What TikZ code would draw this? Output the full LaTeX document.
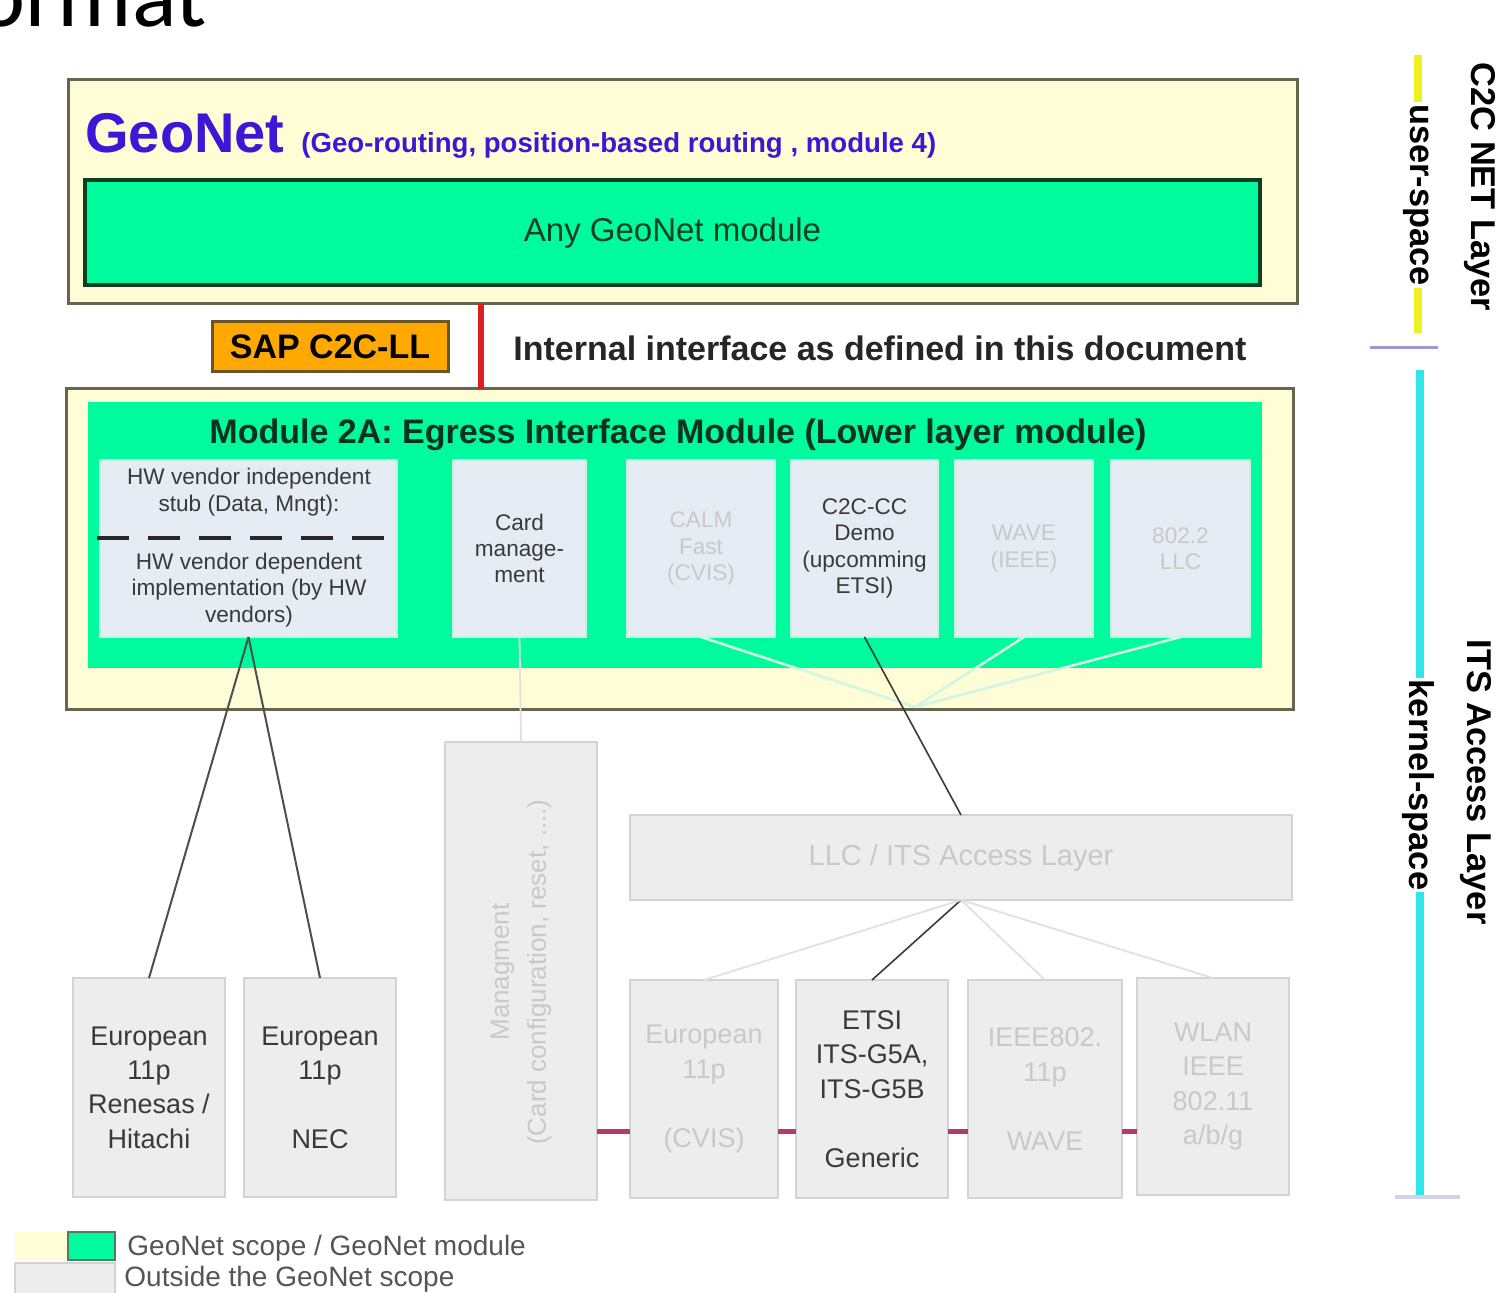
\documentclass[tikz,border=0pt]{standalone}
\usepackage{fontspec}
\setmainfont{Liberation Sans}
\newfontfamily\headfont{Carlito}
\usetikzlibrary{calc}

\definecolor{scope}{HTML}{FEFDD5}
\definecolor{modgreen}{HTML}{00FA9E}
\definecolor{modedge}{HTML}{0E3F22}
\definecolor{frame}{HTML}{66664F}
\definecolor{subfill}{HTML}{E6ECF3}
\definecolor{subedge}{HTML}{C6F3E0}
\definecolor{outfill}{HTML}{EDEDED}
\definecolor{outedge}{HTML}{D4D4D4}
\definecolor{darktxt}{HTML}{3A3A3A}
\definecolor{lighttxt}{HTML}{C9C9C9}
\definecolor{geoblue}{HTML}{3E16D6}
\definecolor{sapfill}{HTML}{FFA800}
\definecolor{sapedge}{HTML}{6B5526}
\definecolor{ifred}{HTML}{DD1F22}
\definecolor{linkpink}{HTML}{B23A6C}
\definecolor{userbar}{HTML}{EEF022}
\definecolor{kernbar}{HTML}{30E6E6}
\definecolor{divider}{HTML}{9C9AD8}
\definecolor{paleline}{HTML}{D2F6E6}
\definecolor{legendtxt}{HTML}{555555}

\tikzset{
  sized/.style={inner sep=0pt, outer sep=0pt},
  scopebox/.style={sized, draw=frame, fill=scope, line width=1.5pt},
  subbox/.style={sized, draw=subedge, fill=subfill, line width=1pt, align=center, minimum height=88.5pt},
  outbox/.style={sized, draw=outedge, fill=outfill, line width=1pt, align=center},
  smalltxt/.style={font=\fontsize{11.3}{13.3}\selectfont},
  cardtxt/.style={font=\fontsize{11.3}{13.2}\selectfont},
  boxtxt/.style={font=\fontsize{13.5}{17.2}\selectfont},
  dark/.style={text=darktxt},
  light/.style={text=lighttxt},
  sidetxt/.style={rotate=-90, font=\fontsize{17.2}{19}\selectfont\bfseries, inner sep=1pt},
  darklink/.style={draw=darktxt!90, line width=1pt},
  palelink/.style={draw=paleline, line width=1.3pt},
  greylink/.style={draw=outedge!70, line width=0.9pt},
  pinklink/.style={draw=linkpink, line width=2.5pt},
}

\begin{document}
\begin{tikzpicture}[x=0.5pt,y=-0.5pt]
\useasboundingbox (0,0) rectangle (1504,1293);
\fill[white] (0,0) rectangle (1504,1293);

% heading fragment at the top edge
\node[anchor=base west, inner sep=0pt, font=\headfont\fontsize{46.5}{50}\selectfont] (headfrag) at (-24,27) {ormat};

% ---- GeoNet scope (top) ----
\node[scopebox, minimum width=614.5pt, minimum height=112pt] (geoscope) at (682.5,192) {};
\node[anchor=base west, inner sep=0pt, text=geoblue, font=\fontsize{28}{30}\selectfont\bfseries] (geotitle) at (85,153) {GeoNet};
\node[anchor=base west, inner sep=0pt, text=geoblue, font=\fontsize{13.8}{15}\selectfont\bfseries] (geosub) at (301,153) {(Geo-routing, position-based routing , module 4)};
\node[sized, draw=modedge, fill=modgreen, line width=2pt, minimum width=587.5pt, minimum height=52.5pt, text=modedge, font=\fontsize{16.5}{18}\selectfont] (anymod) at (672.5,232.5) {Any GeoNet module};

% ---- lower GeoNet scope ----
\node[scopebox, minimum width=613.5pt, minimum height=160.5pt] (lowscope) at (679.5,549.5) {};
\node[sized, fill=modgreen, minimum width=587pt, minimum height=133pt] (mod2a) at (675,535) {};
\node[text=modedge!80!black, font=\fontsize{17}{19}\selectfont\bfseries] (mod2atitle) at (678,435) {Module 2A: Egress Interface Module (Lower layer module)};

% interface between the two scopes
\coordinate (ifx) at (481,0);
\draw[ifred, line width=3pt] (ifx |- geoscope.south) -- (ifx |- lowscope.north);
\node[sized, draw=sapedge, fill=sapfill, line width=1.5pt, minimum width=118pt, minimum height=25pt, font=\fontsize{17}{19}\selectfont\bfseries] (sap) at (330,347) {SAP C2C-LL};
\node[anchor=west, inner sep=0pt, text=black!85, font=\fontsize{17}{19}\selectfont\bfseries] (iflabel) at (513,348) {Internal interface as defined in this document};

% ---- sub-modules of module 2A ----
\node[subbox, minimum width=148.5pt] (hw) at (248.5,548.5) {};
\node[dark, smalltxt, align=center] (hwtop) at (249,492) {HW vendor independent\\stub (Data, Mngt):};
\node[dark, smalltxt, align=center] (hwbot) at (249,590) {HW vendor dependent\\implementation (by HW\\vendors)};
\draw[black!85, line width=2pt, dash pattern=on 16pt off 9.5pt] (97,538) -- (392,538);

\node[subbox, minimum width=66.5pt, dark, cardtxt] (card) at (519.5,548.5) {Card\\manage-\\ment};
\node[subbox, minimum width=74pt, light, cardtxt] (calm) at (701,548.5) {CALM\\Fast\\(CVIS)};
\node[subbox, minimum width=73.5pt, dark, cardtxt] (c2c) at (864.5,548.5) {C2C-CC\\Demo\\(upcomming\\ETSI)};
\node[subbox, minimum width=69pt, light, cardtxt] (wave) at (1024,548.5) {WAVE\\(IEEE)};
\node[subbox, minimum width=69.5pt, light, cardtxt] (llc2) at (1180.5,548.5) {802.2\\LLC};

% ---- outside the GeoNet scope ----
\node[outbox, minimum width=76pt, minimum height=229pt] (mgmt) at (521,971) {};
\node[rotate=90, light, align=center, font=\fontsize{13}{18.5}\selectfont] (mgmttxt) at (521,972) {Managment\\(Card configuration, reset, ....)};
\node[outbox, minimum width=331pt, minimum height=42.5pt, light, font=\fontsize{14.5}{16}\selectfont] (llc) at (961,857.5) {LLC / ITS Access Layer};

\node[outbox, minimum width=76pt, minimum height=109.5pt, dark, boxtxt] (eu1) at (149,1087.5) {European\\11p\\Renesas /\\Hitachi};
\node[outbox, minimum width=76pt, minimum height=109.5pt, dark, boxtxt] (eu2) at (320,1087.5) {European\\11p\\~\\NEC};
\node[outbox, minimum width=74pt, minimum height=109pt, light, boxtxt] (cvis) at (704,1089) {European\\11p\\~\\(CVIS)};
\node[outbox, minimum width=76pt, minimum height=109pt, dark, boxtxt] (etsi) at (872,1089) {ETSI\\ITS-G5A,\\ITS-G5B\\~\\Generic};
\node[outbox, minimum width=77pt, minimum height=109pt, light, boxtxt] (ieee) at (1045,1089) {IEEE802.\\11p\\~\\WAVE};
\node[outbox, minimum width=76pt, minimum height=108.5pt, light, boxtxt] (wlan) at (1213,1086.5) {WLAN\\IEEE\\802.11\\a/b/g};

% ---- connectors ----
\draw[darklink] (hw.south) -- (eu1.north);
\draw[darklink] (hw.south) -- (eu2.north);
\draw[greylink] (card.south) -- (mgmt.north);
\coordinate (meet) at (915,707);
\draw[palelink] (calm.south) -- (meet);
\draw[palelink] (wave.south) -- (meet);
\draw[palelink] (llc2.south) -- (meet);
\draw[draw=darktxt, line width=0.8pt] (c2c.south) -- (llc.north);
\draw[draw=darktxt, line width=0.8pt] (llc.south) -- (etsi.north);
\draw[greylink] (llc.south) -- (cvis.north);
\draw[greylink] (llc.south) -- (ieee.north);
\draw[greylink] (llc.south) -- (wlan.north);

\draw[pinklink] ([yshift=-21pt]cvis.west) -- ([yshift=-21pt]cvis.west -| mgmt.east);
\draw[pinklink] ([yshift=-21pt]etsi.west) -- ([yshift=-21pt]etsi.west -| cvis.east);
\draw[pinklink] ([yshift=-21pt]ieee.west) -- ([yshift=-21pt]ieee.west -| etsi.east);
\draw[pinklink] ([yshift=-21pt]ieee.east) -- ([yshift=-21pt]ieee.east -| wlan.west);

% ---- layer markers on the right ----
\draw[userbar, line width=4pt] (1418,55) -- (1418,333);
\node[sidetxt, fill=white] (userlbl) at (1416,195) {user-space};
\node[sidetxt] (c2clbl) at (1480,187) {C2C NET Layer};
\draw[divider, line width=1.5pt] (1370,348) -- (1438,348);
\draw[kernbar, line width=4pt] (1420,370) -- (1420,1198);
\node[sidetxt, fill=white] (kernlbl) at (1418,785) {kernel-space};
\node[sidetxt] (itslbl) at (1476,782) {ITS Access Layer};
\draw[divider!45, line width=2pt] (1395,1197) -- (1460,1197);

% ---- legend ----
\fill[scope] (15,1232) rectangle (68,1260);
\draw[fill=modgreen, draw=modedge!70, line width=1pt] (68,1232) rectangle (115,1260);
\draw[fill=outfill, draw=outedge, line width=1pt] (15,1263) rectangle (115,1300);
\node[anchor=west, inner sep=0pt, text=legendtxt, font=\fontsize{14}{16}\selectfont] (leg1) at (127,1248) {GeoNet scope / GeoNet module};
\node[anchor=west, inner sep=0pt, text=legendtxt, font=\fontsize{14}{16}\selectfont] (leg2) at (124,1279) {Outside the GeoNet scope};
\end{tikzpicture}
\end{document}
